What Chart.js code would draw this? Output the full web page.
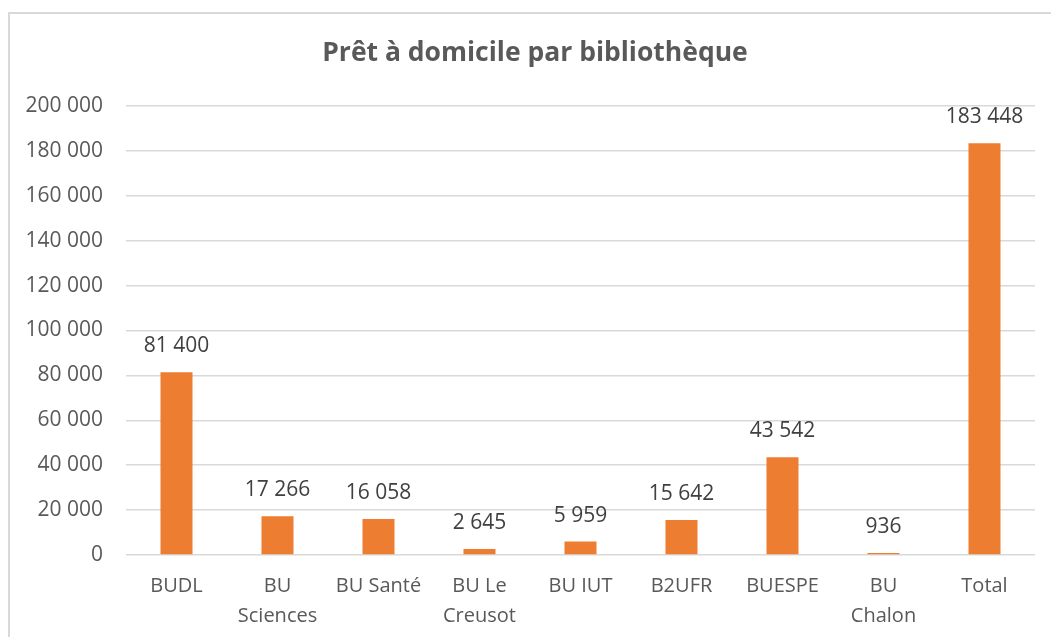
<!DOCTYPE html>
<html>
<head>
<meta charset="utf-8">
<script src="https://cdn.jsdelivr.net/npm/chart.js@4"></script>
<style>
    html, body { margin: 0; padding: 0; background: #fff; }
    #wrap { position: relative; width: 1051px; height: 637px; overflow: hidden; }
    #frame { position: absolute; left: 8px; top: 12px; width: 1100px; height: 700px; border: 2px solid #d9d9d9; box-sizing: border-box; }
    #chart { position: absolute; left: 0; top: 0; }
</style>
</head>
<body>
<div id="wrap">
    <div id="frame"></div>
    <canvas id="chart" width="1051" height="637"></canvas>
</div>
<script>
const chartTitle = 'Prêt à domicile par bibliothèque';
const categories = ['BUDL', ['BU', 'Sciences'], 'BU Santé', ['BU Le', 'Creusot'], 'BU IUT', 'B2UFR', 'BUESPE', ['BU', 'Chalon'], 'Total'];
const loans = [81400, 17266, 16058, 2645, 5959, 15642, 43542, 936, 183448];
const yTicks = [0, 20000, 40000, 60000, 80000, 100000, 120000, 140000, 160000, 180000, 200000];

const FONT = "'Open Sans', sans-serif";

function fmt(v) {
    return String(v).replace(/\B(?=(\d{3})+(?!\d))/g, ' ');
}

// labels above each bar + title centred on the frame
const valueLabels = {
    id: 'valueLabels',
    afterDatasetsDraw(chart) {
        const ctx = chart.ctx;
        const meta = chart.getDatasetMeta(0);
        ctx.save();
        ctx.font = '21px ' + FONT;
        ctx.fillStyle = '#404040';
        ctx.textAlign = 'center';
        ctx.textBaseline = 'middle';
        meta.data.forEach((bar, i) => {
            ctx.fillText(fmt(loans[i]), bar.x, bar.y - 26);
        });
        ctx.font = 'bold 26.5px ' + FONT;
        ctx.fillStyle = '#595959';
        ctx.fillText(chartTitle, 535, 53);
        ctx.restore();
    }
};

new Chart(document.getElementById('chart'), {
    type: 'bar',
    data: {
        labels: categories,
        datasets: [{
            data: loans,
            backgroundColor: '#ED7D31',
            barPercentage: 0.317,
            categoryPercentage: 1
        }]
    },
    options: {
        responsive: false,
        animation: false,
        layout: { padding: { left: 0, right: 16, top: 106, bottom: 0 } },
        plugins: {
            legend: { display: false },
            tooltip: { enabled: false },
            title: { display: false }
        },
        scales: {
            x: {
                grid: { display: false, drawTicks: false },
                border: { display: false },
                ticks: {
                    color: '#595959',
                    font: { family: FONT, size: 20, lineHeight: 1.5 },
                    padding: 16,
                    maxRotation: 0,
                    autoSkip: false
                },
                afterFit: s => { s.height = 82; }
            },
            y: {
                min: 0,
                max: 200000,
                afterBuildTicks: s => { s.ticks = yTicks.map(v => ({ value: v })); },
                grid: { color: '#d9d9d9', lineWidth: 1.5, drawTicks: false },
                border: { display: false },
                ticks: {
                    color: '#595959',
                    font: { family: FONT, size: 21 },
                    padding: 23,
                    callback: v => fmt(v)
                },
                afterFit: s => { s.width = 126; }
            }
        }
    },
    plugins: [valueLabels]
});
</script>
</body>
</html>
